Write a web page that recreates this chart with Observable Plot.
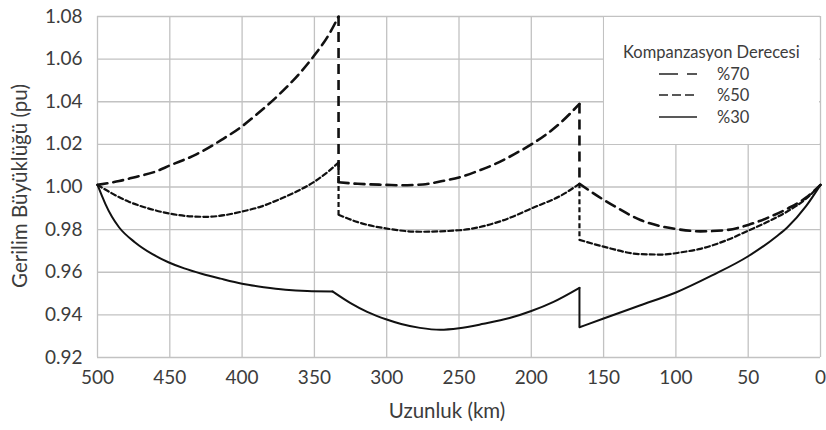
<!DOCTYPE html>
<html>
<head>
<meta charset="utf-8">
<script src="https://cdn.jsdelivr.net/npm/d3@7"></script>
<script src="https://cdn.jsdelivr.net/npm/@observablehq/plot@0.6"></script>
<style>
  html, body { margin: 0; padding: 0; background: #fff; }
  #wrap { position: relative; width: 826px; height: 430px; font-family: Lato, "Open Sans", sans-serif; color: #3c3c3c; }
  #legend { position: absolute; left: 604px; top: 17px; width: 215px; height: 127px; background: #fff; }
  #legend .title { position: absolute; left: 19px; top: 25px; font-size: 16.5px; white-space: nowrap; line-height: 20px; }
  #legend .item { position: absolute; left: 55px; height: 20px; display: flex; align-items: center; white-space: nowrap; font-size: 16.5px; }
  #legend .item svg { display: block; margin-right: 20px; }
  .ytitle { position: absolute; left: 19px; top: 186px; transform: translate(-50%, -50%) rotate(-90deg); font-size: 20.5px; white-space: nowrap; }
  .xtitle { position: absolute; left: 447px; top: 410px; transform: translate(-50%, -50%); font-size: 20.5px; white-space: nowrap; }
</style>
</head>
<body>
<div id="wrap"></div>
<script>
// ---- data ----
const xTicks = [500, 450, 400, 350, 300, 250, 200, 150, 100, 50, 0];
const yTicks = [0.92, 0.94, 0.96, 0.98, 1.00, 1.02, 1.04, 1.06, 1.08];
const xLabel = "Uzunluk (km)";
const yLabel = "Gerilim Büyüklüğü (pu)";
const legendTitle = "Kompanzasyon Derecesi";
const seriesNames = ["%70", "%50", "%30"];

// %70 compensation (a repeated km marks a vertical jump / segment break)
const km70 = [500, 485, 475, 460, 450, 432, 414, 400, 390, 375, 360, 350, 340, 333.3,
              333.3, 320, 300, 290, 275, 260, 250, 237, 225, 212, 200, 190, 180, 166.7,
              166.7, 150, 140, 124.5, 110, 99, 83, 65, 50, 35, 23, 10, 0];
const v70 = [1.001, 1.0028, 1.0045, 1.0072, 1.0101, 1.0152, 1.0222, 1.0285, 1.034, 1.043, 1.0535, 1.0618, 1.0715, 1.080,
             1.0022, 1.0015, 1.001, 1.0008, 1.0012, 1.003, 1.0045, 1.0075, 1.0108, 1.0153, 1.020, 1.0245, 1.030, 1.039,
             1.0015, 0.994, 0.990, 0.9845, 0.9815, 0.9802, 0.9792, 0.9798, 0.9822, 0.986, 0.9898, 0.995, 1.001];

// %50 compensation
const km50 = [500, 490, 478, 465, 450, 435, 425, 412, 400, 387, 375, 362, 350, 340, 333.3,
              333.3, 320, 300, 277, 250, 221, 198, 180, 166.7,
              166.7, 150, 124.5, 110, 95, 83, 65, 50, 35, 23, 10, 0];
const v50 = [1.001, 0.997, 0.993, 0.990, 0.9875, 0.9862, 0.986, 0.9868, 0.9885, 0.9908, 0.994, 0.998, 1.0025, 1.0075, 1.0115,
             0.987, 0.9835, 0.9805, 0.979, 0.9797, 0.984, 0.9905, 0.9958, 1.0015,
             0.9752, 0.972, 0.9685, 0.9683, 0.9695, 0.971, 0.975, 0.9795, 0.9842, 0.9885, 0.9945, 1.001];

// %30 compensation
const km30 = [500, 497, 494.5, 490, 485, 474, 462, 451, 440, 428, 415, 400, 385, 370, 355, 337.5,
              337.5, 325, 313.5, 300, 290, 277, 263, 250, 233, 215, 200, 185, 166.7,
              166.7, 150, 125, 100, 75, 50, 30, 23, 10, 0];
const v30 = [1.001, 0.996, 0.992, 0.986, 0.981, 0.974, 0.9685, 0.9647, 0.9618, 0.9593, 0.957, 0.9546, 0.953, 0.9518, 0.9512, 0.951,
             0.951, 0.9455, 0.9414, 0.9378, 0.9357, 0.9339, 0.933, 0.9337, 0.9358, 0.9385, 0.9418, 0.946, 0.9527,
             0.9342, 0.9383, 0.9444, 0.9505, 0.9585, 0.9675, 0.977, 0.981, 0.991, 1.001];

// ---- styles ----
const styles = {
  "%70": {strokeWidth: 2.6, strokeDasharray: "10,6", legendDash: "19,9"},
  "%50": {strokeWidth: 2.2, strokeDasharray: "5,3", legendDash: "9,4"},
  "%30": {strokeWidth: 2.0, strokeDasharray: null, legendDash: null}
};

// split each series into smooth pieces and vertical jumps at repeated km values
function pieces(km, v) {
  const segs = [], jumps = [];
  let seg = 0;
  km.forEach((k, i) => {
    if (i > 0 && k === km[i - 1]) {
      seg++;
      if (v[i] !== v[i - 1]) jumps.push({km: k, v1: v[i - 1], v2: v[i], seg});
    }
    segs.push({km: k, v: v[i], seg});
  });
  return {segs, jumps};
}
const data = {"%70": pieces(km70, v70), "%50": pieces(km50, v50), "%30": pieces(km30, v30)};

const gridStyle = {stroke: "#c2c2c2", strokeOpacity: 1, strokeWidth: 1.3};

const marks = [
  Plot.gridX(xTicks, gridStyle),
  Plot.gridY(yTicks, gridStyle),
  Plot.axisX(xTicks, {tickSize: 0, tickPadding: 13, fontSize: 19, label: null}),
  Plot.axisY(yTicks, {tickSize: 0, tickPadding: 15, fontSize: 19, label: null, tickFormat: d3.format(".2f")})
];
for (const name of seriesNames) {
  const s = styles[name];
  marks.push(Plot.line(data[name].segs, {
    x: "km", y: "v", z: "seg", stroke: "#111", curve: "monotone-x",
    strokeWidth: s.strokeWidth, strokeDasharray: s.strokeDasharray, strokeLinejoin: "round"
  }));
  marks.push(Plot.ruleX(data[name].jumps, {
    x: "km", y1: "v1", y2: "v2", stroke: "#111",
    strokeWidth: s.strokeWidth, strokeDasharray: s.strokeDasharray
  }));
}

const chart = Plot.plot({
  width: 826,
  height: 430,
  marginLeft: 97,
  marginRight: 6,
  marginTop: 16,
  marginBottom: 73,
  style: {fontFamily: "Lato, 'Open Sans', sans-serif", color: "#3c3c3c", background: "transparent"},
  x: {domain: [500, 0]},
  y: {domain: [0.92, 1.08]},
  marks
});

const wrap = document.getElementById("wrap");
wrap.appendChild(chart);

// axis titles
const yt = document.createElement("div");
yt.className = "ytitle"; yt.textContent = yLabel; wrap.appendChild(yt);
const xt = document.createElement("div");
xt.className = "xtitle"; xt.textContent = xLabel; wrap.appendChild(xt);

// legend
const legend = document.createElement("div");
legend.id = "legend";
const lt = document.createElement("div");
lt.className = "title"; lt.textContent = legendTitle; legend.appendChild(lt);
const itemTops = [47, 68, 90];
seriesNames.forEach((name, i) => {
  const it = document.createElement("div");
  it.className = "item";
  it.style.top = itemTops[i] + "px";
  const dash = styles[name].legendDash;
  it.innerHTML = `<svg width="38" height="10"><line x1="0" y1="5" x2="38" y2="5" stroke="#222" stroke-width="1.6" ${dash ? `stroke-dasharray="${dash}"` : ""}/></svg><span>${name}</span>`;
  legend.appendChild(it);
});
wrap.appendChild(legend);
</script>
</body>
</html>
